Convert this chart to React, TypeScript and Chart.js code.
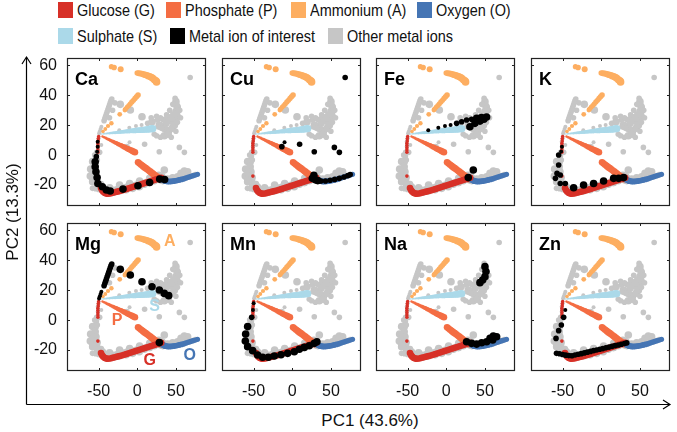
import React, { useEffect, useRef } from 'react';
import { Chart, registerables } from 'chart.js';
Chart.register(...registerables);

type P = [number, number];
type M = [number, number, number];

const FONT = "'Liberation Sans', Arial, Helvetica, sans-serif";

// ---------- tick values ----------
const xTicks = [-50, 0, 50];
const yTicks = [-20, 0, 20, 40, 60];

// ---------- fixed chemical series (PC1, PC2) ----------
const glucoseTail: P[] = [[-50, 12.5], [-50.5, 11], [-50.5, 9.5], [-51, 8], [-51, 6.5], [-51, 5], [-51, 3.5], [-51, 2], [-51, -14]];
const glucose: P[] = [[-47, -22], [-45.5, -23.5], [-44, -24.5], [-42, -25.3], [-40, -25.7], [-38, -25.8], [-35, -25.6], [-32, -25.2], [-29, -24.8], [-26, -24.4], [-23, -24], [-20, -23.6], [-17, -23.1], [-14, -22.6], [-11, -22.1], [-8, -21.6], [-5, -21.1], [-2, -20.6], [1, -20.1], [4, -19.6], [7, -19.1], [10, -18.6], [13, -18.1], [16, -17.6], [19, -17.1], [22, -16.6], [25, -16.1], [28, -15.6], [31, -15.1]];
const phosphateA: P[] = [[-45, 12.5], [-43, 12], [-41, 11.5], [-39, 11], [-37, 10.5], [-35, 10], [-33, 9.5], [-31, 9], [-29, 8.5], [-27, 8], [-25, 7.5], [-23, 7], [-21, 6.5], [-19, 6], [-17, 5.5], [-15, 5], [-13, 4.5], [-11, 4], [-9, 3.5], [-7, 3], [-5, 2.5], [-3, 2]];
const phosphateB: P[] = [[1, -4.8], [3, -5.6], [5, -6.4], [7, -7.2], [9, -8], [11, -8.7], [13, -9.5], [15, -10.3], [17, -11.1], [19, -11.9], [21, -12.7], [23, -13.5], [25, -14.3], [27, -15.1], [29, -15.9]];
const oxygen: P[] = [[33, -16.5], [36, -17.2], [39, -17.5], [42, -17.6], [45, -17.5], [48, -17.3], [51, -17], [54, -16.6], [57, -16.2], [60, -15.8], [63, -15.3], [66, -14.8], [69, -14.3], [72, -13.8], [75, -13.3], [78, -12.8]];
const sulphate: P[] = [[-46, 14.2], [-44, 14.3], [-42, 14.4], [-40, 14.5], [-38, 14.6], [-36, 14.7], [-34, 14.8], [-32, 14.9], [-30, 15], [-28, 15.1], [-26, 15.2], [-24, 15.3], [-22, 15.4], [-20, 15.6], [-18, 15.7], [-16, 15.8], [-14, 15.9], [-12, 16], [-10, 16.1], [-8, 16.2], [-6, 16.3], [-4, 16.4], [-2, 16.5], [0, 16.6], [2, 16.7], [4, 16.8], [6, 16.9], [8, 17], [10, 17.1], [12, 17.2], [14, 17.3], [16, 17.5], [18, 17.6], [20, 17.7]];
const ammoniumA: P[] = [[-33.5, 59.2], [-30, 58.6], [-21.5, 57.4]];
const ammoniumB: P[] = [[0, 55], [2, 54.8], [4, 54.6], [6, 54.4], [8, 54.1], [10, 53.8], [12, 53.4], [14, 53], [16, 52.6], [18, 52.2], [20, 51.5], [22, 50.6], [24, 49.8], [25, 49]];
const ammoniumC: P[] = [[1, 40.3], [-1, 39.1], [-3, 37.9], [-5, 36.7], [-7, 35.6], [-9, 34.4], [-11, 33.2], [-13, 32.1], [-15, 30.9], [-16, 30.2]];
const ammoniumD: P[] = [[-22.7, 27.3], [-33.5, 21.3], [-37.9, 19.5], [-41.4, 17.5], [-44.4, 15.8]];

// ---------- metal ions: [PC1, PC2, concentration level 1..3] ----------
const ca: M[] = [[-51.3, 9, 1], [-51.3, 5.7, 1], [-52, 2.3, 1], [-53, -1, 2], [-54.5, -4.4, 3], [-54.5, -7.7, 3], [-53.5, -11.1, 3], [-52, -15, 3], [-51, -18.9, 3], [-45.2, -21.1, 3], [-40, -23.3, 3], [-35, -24, 3], [-18.5, -22.7, 3], [0.9, -20.5, 3], [16, -18.3, 3], [29, -16, 3], [35.4, -16.3, 3]];
const cu: M[] = [[68.5, 52, 2], [-10, 8.6, 1], [-13.5, 5.7, 2], [9.5, 7.3, 2], [28.5, 2.3, 2], [54.5, 5.2, 2], [61, 1.9, 2], [26, -15.5, 3], [28, -13.5, 3], [30, -16.5, 3], [33, -17, 3], [37, -17.3, 2], [43, -17.3, 2], [49, -16.8, 2], [55, -16.2, 2], [61, -15.5, 2], [67, -14.6, 2], [72, -13.7, 2], [75, -13, 2]];
const fe: M[] = [[-23.3, 16.6, 1], [-10.3, 18.4, 1], [-1.7, 19.5, 1], [5.6, 20.2, 1], [13.4, 21.3, 2], [19.9, 22.4, 2], [26.3, 23.5, 2], [32.8, 24, 2], [39.3, 24.6, 3], [45.7, 25.1, 3], [52.2, 25.5, 3], [30.6, 19, 3], [37.1, 21.3, 3], [43.6, 22.8, 3], [48.7, 24.1, 3], [35, -9.9, 3], [28.5, -15, 3]];
const k: M[] = [[-50.9, 5.7, 1], [-52, 2.5, 1], [-55.2, 0.1, 2], [-55.2, -6.6, 2], [-57.3, -12.2, 2], [-53.1, -13.3, 2], [-59.4, -15.5, 2], [-53.1, -18.9, 2], [-46.6, -18.9, 2], [-35.8, -21.8, 3], [-22.9, -20, 3], [-9.9, -18.9, 3], [3, -17.3, 3], [16, -15.5, 3], [22.5, -15.5, 3], [28.9, -15, 3]];
const mg: M[] = [[-49.5, 14.5, 1], [-48.5, 16, 1], [-47.5, 17.5, 1], [-46.5, 19, 1], [-43, 23, 2], [-42, 24.5, 2], [-41, 26, 2], [-40, 27.5, 2], [-39, 29, 2], [-38, 30.5, 2], [-37, 32, 2], [-36, 33.5, 2], [-35, 35, 2], [-34, 36.5, 2], [-33, 37.5, 2], [-22, 34, 3], [-9, 30.2, 3], [6.1, 25.7, 3], [19.1, 22.4, 3], [28.6, 20.2, 3], [35, 17.9, 3], [40.7, 16.4, 3], [28.6, -15, 3]];
const mn: M[] = [[-50, 11.3, 1], [-50.9, 6.8, 1], [-52.6, 1.9, 2], [-57.8, -4.3, 3], [-60.4, -9.2, 3], [-60.8, -13.9, 3], [-57.8, -17.7, 3], [-51.3, -20.4, 3], [-44.8, -23.3, 3], [-38.4, -24.8, 3], [-31, -24.8, 3], [-23.3, -24, 3], [-14.6, -23.1, 3], [-6, -22.2, 3], [2.6, -21.1, 3], [9.1, -19.5, 3], [15.5, -18.2, 3], [22, -17.1, 3], [28.5, -15.5, 3], [31.9, -14.4, 3]];
const na: M[] = [[50.1, 35.8, 3], [51.4, 32.5, 3], [50.1, 29.1, 3], [47.1, 26.9, 3], [43.6, 25.1, 3], [26.3, -14.4, 3], [32.8, -15.5, 3], [39.3, -16, 3], [45.8, -15.1, 3], [52.3, -14.4, 3], [56.6, -12.2, 3], [60.9, -10.7, 3], [65.2, -11.1, 3], [60.1, -13.3, 3]];
const zn: M[] = [[-46.6, 6.8, 1], [-48.7, 1.9, 2], [-51.7, -3.2, 2], [-55.2, -7, 2], [-58.6, -12.2, 2], [-58, -22.2, 2], [-54, -22.5, 2], [-50, -23, 2], [-46, -23.4, 2], [-42, -23.7, 2], [-38, -23.8, 2], [-34, -23.3, 2], [-30, -22.8, 2], [-26, -22.4, 2], [-22, -21.9, 2], [-18, -21.4, 2], [-14, -20.9, 2], [-10, -20.4, 2], [-6, -20, 2], [-2, -19.5, 2], [2, -19, 2], [6, -18.5, 2], [10, -18, 2], [14, -17.5, 2], [18, -17, 2], [22, -16.6, 2], [26, -16.1, 2], [30, -15.6, 2], [33, -15.2, 2]];
const otherMetals: M[] = [[22, 14, 2], [25, 13, 2], [30, 12, 2], [35, 13, 3], [40, 14, 3], [45, 18, 3], [48, 20, 3], [52, 28, 2], [53, 32, 2], [52, 22, 2], [38, 27, 2], [30, 25, 2], [25, 26, 2], [18, 25, 2], [42, 30, 2], [55, 30, 2], [56, 25, 2], [50, 16, 2], [44, 12, 2], [32, 18, 2], [27, 19, 2], [46, 34, 2], [49, 38, 2], [-36, 25, 2], [-32, 30, 2], [-29, 35, 2]];

const panelNames = ['Ca', 'Cu', 'Fe', 'K', 'Mg', 'Mn', 'Na', 'Zn'];
const panelMetals = [ca, cu, fe, k, mg, mn, na, zn];

// Mg annotations
const annoText = ['A', 'S', 'P', 'G', 'O'];
const annoX = [42, 22.5, -26, 16, 68];
const annoY = [52.5, 9, -0.5, -27, -23.5];

// ---------- styles ----------
const GLU = '#d73027';
const PHO = '#f46d43';
const AMM = '#fdae61';
const OXY = '#4575b4';
const SUL = '#abd9e9';
const BLACK = '#000000';
const GREY = '#c6c6c6';
const annoColor = [AMM, SUL, PHO, GLU, OXY];
const LEVEL_R = [0, 2, 2.8, 3.8];

const colLeft = [67, 222, 376, 531];
const rowTop = [58, 223];
const PW = 139;
const PH = 148;
const YW = 50;
const XH = 34;

function solid(data: P[], color: string, r0: number, r1: number) {
  const n = data.length;
  const rad = (ctx: any) => (n > 1 ? r0 + ((r1 - r0) * (ctx.dataIndex || 0)) / (n - 1) : r0);
  return {
    data: data.map((p) => ({ x: p[0], y: p[1] })),
    pointBackgroundColor: color,
    backgroundColor: color,
    pointBorderWidth: 0,
    borderWidth: 0,
    pointRadius: rad,
    pointHoverRadius: rad,
  };
}

function levels(data: M[], color: string) {
  const rad = (ctx: any) => (ctx.raw ? LEVEL_R[ctx.raw.c] : 2);
  return {
    data: data.map((p) => ({ x: p[0], y: p[1], c: p[2] })),
    pointBackgroundColor: color,
    backgroundColor: color,
    pointBorderWidth: 0,
    borderWidth: 0,
    pointRadius: rad,
    pointHoverRadius: rad,
  };
}

const framePlugin = {
  id: 'frame',
  afterDatasetsDraw(chart: any, _a: any, opts: any) {
    const { ctx, chartArea: a, scales } = chart;
    ctx.save();
    if (opts.anno) {
      ctx.font = `bold 16px ${FONT}`;
      ctx.textAlign = 'center';
      ctx.textBaseline = 'middle';
      annoText.forEach((t, i) => {
        ctx.fillStyle = annoColor[i];
        ctx.fillText(t, scales.x.getPixelForValue(annoX[i]), scales.y.getPixelForValue(annoY[i]));
      });
    }
    ctx.strokeStyle = '#222';
    ctx.lineWidth = 1.2;
    ctx.strokeRect(a.left + 0.5, a.top + 0.5, a.right - a.left - 1, a.bottom - a.top - 1);
    ctx.lineWidth = 1;
    ctx.beginPath();
    const L = 3;
    xTicks.forEach((v) => {
      const px = Math.round(scales.x.getPixelForValue(v)) + 0.5;
      ctx.moveTo(px, a.bottom);
      ctx.lineTo(px, a.bottom - L);
      ctx.moveTo(px, a.top);
      ctx.lineTo(px, a.top + L);
    });
    yTicks.forEach((v) => {
      const py = Math.round(scales.y.getPixelForValue(v)) + 0.5;
      ctx.moveTo(a.left, py);
      ctx.lineTo(a.left + L, py);
      ctx.moveTo(a.right, py);
      ctx.lineTo(a.right - L, py);
    });
    ctx.stroke();
    ctx.restore();
  },
};

function Panel({ idx }: { idx: number }) {
  const ref = useRef<HTMLCanvasElement>(null);
  const col = idx % 4;
  const row = Math.floor(idx / 4);
  const leftCol = col === 0;
  const bottomRow = row === 1;
  const padL = leftCol ? 0 : 4;
  const padT = 10;
  const padR = 4;
  const padB = bottomRow ? 0 : 4;
  const cw = (leftCol ? YW : padL) + PW + padR;
  const ch = padT + PH + (bottomRow ? XH : padB);
  const left = colLeft[col] - (leftCol ? YW : padL);
  const top = rowTop[row] - padT;

  useEffect(() => {
    const others = panelMetals.filter((_, j) => j !== idx).flat().concat(otherMetals);
    const datasets = [
      levels(panelMetals[idx], BLACK),
      solid(glucoseTail, GLU, 1.8, 1.8),
      solid(glucose, GLU, 3.3, 3.3),
      solid(oxygen, OXY, 3.2, 2.6),
      solid(phosphateB, PHO, 3.3, 3.5),
      solid(phosphateA, PHO, 1.2, 3.3),
      solid(ammoniumA, AMM, 2.6, 3.0),
      solid(ammoniumB, AMM, 2.8, 3.8),
      solid(ammoniumC, AMM, 2.8, 2.4),
      solid(ammoniumD, AMM, 2.4, 1.8),
      solid(sulphate, SUL, 0.8, 3.6),
      levels(others, GREY),
    ];
    const zeroPad = (s: any) => {
      s.paddingLeft = 0;
      s.paddingRight = 0;
      s.paddingTop = 0;
      s.paddingBottom = 0;
    };
    const chart = new Chart(ref.current as HTMLCanvasElement, {
      type: 'scatter',
      data: { datasets: datasets as any },
      options: {
        responsive: false,
        maintainAspectRatio: false,
        animation: false,
        devicePixelRatio: 1,
        events: [],
        layout: { padding: { left: padL, top: padT, right: padR, bottom: padB } },
        plugins: {
          legend: { display: false },
          tooltip: { enabled: false },
          frame: { anno: idx === 4 },
        } as any,
        scales: {
          x: {
            type: 'linear',
            min: -91,
            max: 89,
            afterBuildTicks: (s: any) => {
              s.ticks = xTicks.map((v) => ({ value: v }));
            },
            afterFit: (s: any) => {
              s.height = bottomRow ? XH : 0;
              zeroPad(s);
            },
            ticks: {
              display: bottomRow,
              autoSkip: false,
              maxRotation: 0,
              padding: 11,
              color: '#111',
              font: { family: FONT, size: 16 },
              callback: (v: any) => String(v),
            },
            grid: { display: false, drawTicks: false },
            border: { display: false },
          },
          y: {
            type: 'linear',
            min: -34,
            max: 65,
            afterBuildTicks: (s: any) => {
              s.ticks = yTicks.map((v) => ({ value: v }));
            },
            afterFit: (s: any) => {
              s.width = leftCol ? YW : 0;
              zeroPad(s);
            },
            ticks: {
              display: leftCol,
              autoSkip: false,
              padding: 10,
              color: '#111',
              font: { family: FONT, size: 16 },
              callback: (v: any) => String(v),
            },
            grid: { display: false, drawTicks: false },
            border: { display: false },
          },
        },
      } as any,
      plugins: [framePlugin],
    });
    return () => chart.destroy();
  }, []);

  return (
    <>
      <canvas
        ref={ref}
        width={cw}
        height={ch}
        style={{ position: 'absolute', left, top, width: cw, height: ch }}
      />
      <div
        style={{
          position: 'absolute',
          left: colLeft[col] + 8,
          top: rowTop[row] + 12,
          font: `bold 18px ${FONT}`,
          lineHeight: '18px',
          color: '#000',
          whiteSpace: 'nowrap',
        }}
      >
        {panelNames[idx]}
      </div>
    </>
  );
}

const legendNames = ['Glucose (G)', 'Phosphate (P)', 'Ammonium (A)', 'Oxygen (O)', 'Sulphate (S)', 'Metal ion of interest', 'Other metal ions'];
const legendColors = [GLU, PHO, AMM, OXY, SUL, BLACK, GREY];
const legendX = [58, 166, 291, 417, 58, 170, 328];
const legendRow = [0, 0, 0, 0, 1, 1, 1];

export default function App() {
  return (
    <div
      style={{
        position: 'fixed',
        left: 0,
        top: 0,
        width: 677,
        height: 432,
        background: '#fff',
        overflow: 'hidden',
        fontFamily: FONT,
      }}
    >
      {legendNames.map((name, i) => (
        <React.Fragment key={name}>
          <div
            style={{
              position: 'absolute',
              left: legendX[i],
              top: 2 + legendRow[i] * 26,
              width: 15,
              height: 16,
              background: legendColors[i],
            }}
          />
          <div
            style={{
              position: 'absolute',
              left: legendX[i] + 19,
              top: 1 + legendRow[i] * 26,
              fontSize: 17,
              lineHeight: '20px',
              color: '#111',
              whiteSpace: 'nowrap',
              transform: 'scaleX(0.85)',
              transformOrigin: '0 0',
            }}
          >
            {name}
          </div>
        </React.Fragment>
      ))}
      <svg width={677} height={432} style={{ position: 'absolute', left: 0, top: 0 }}>
        <g stroke="#000" strokeWidth={1.2} fill="none">
          <path d="M26.5,404.5 L26.5,57" />
          <path d="M22,64 L26.5,57 L31,64" />
          <path d="M26.5,404.5 L670,404.5" />
          <path d="M663,400 L670,404.5 L663,409" />
        </g>
      </svg>
      {panelNames.map((_, i) => (
        <Panel key={i} idx={i} />
      ))}
      <div
        style={{
          position: 'absolute',
          left: 270,
          top: 411,
          width: 200,
          textAlign: 'center',
          fontSize: 17,
          lineHeight: '20px',
          color: '#111',
        }}
      >
        PC1 (43.6%)
      </div>
      <div
        style={{
          position: 'absolute',
          left: 13 - 100,
          top: 212 - 10,
          width: 200,
          height: 20,
          textAlign: 'center',
          fontSize: 17,
          lineHeight: '20px',
          color: '#111',
          transform: 'rotate(-90deg)',
          whiteSpace: 'nowrap',
        }}
      >
        PC2 (13.3%)
      </div>
    </div>
  );
}
